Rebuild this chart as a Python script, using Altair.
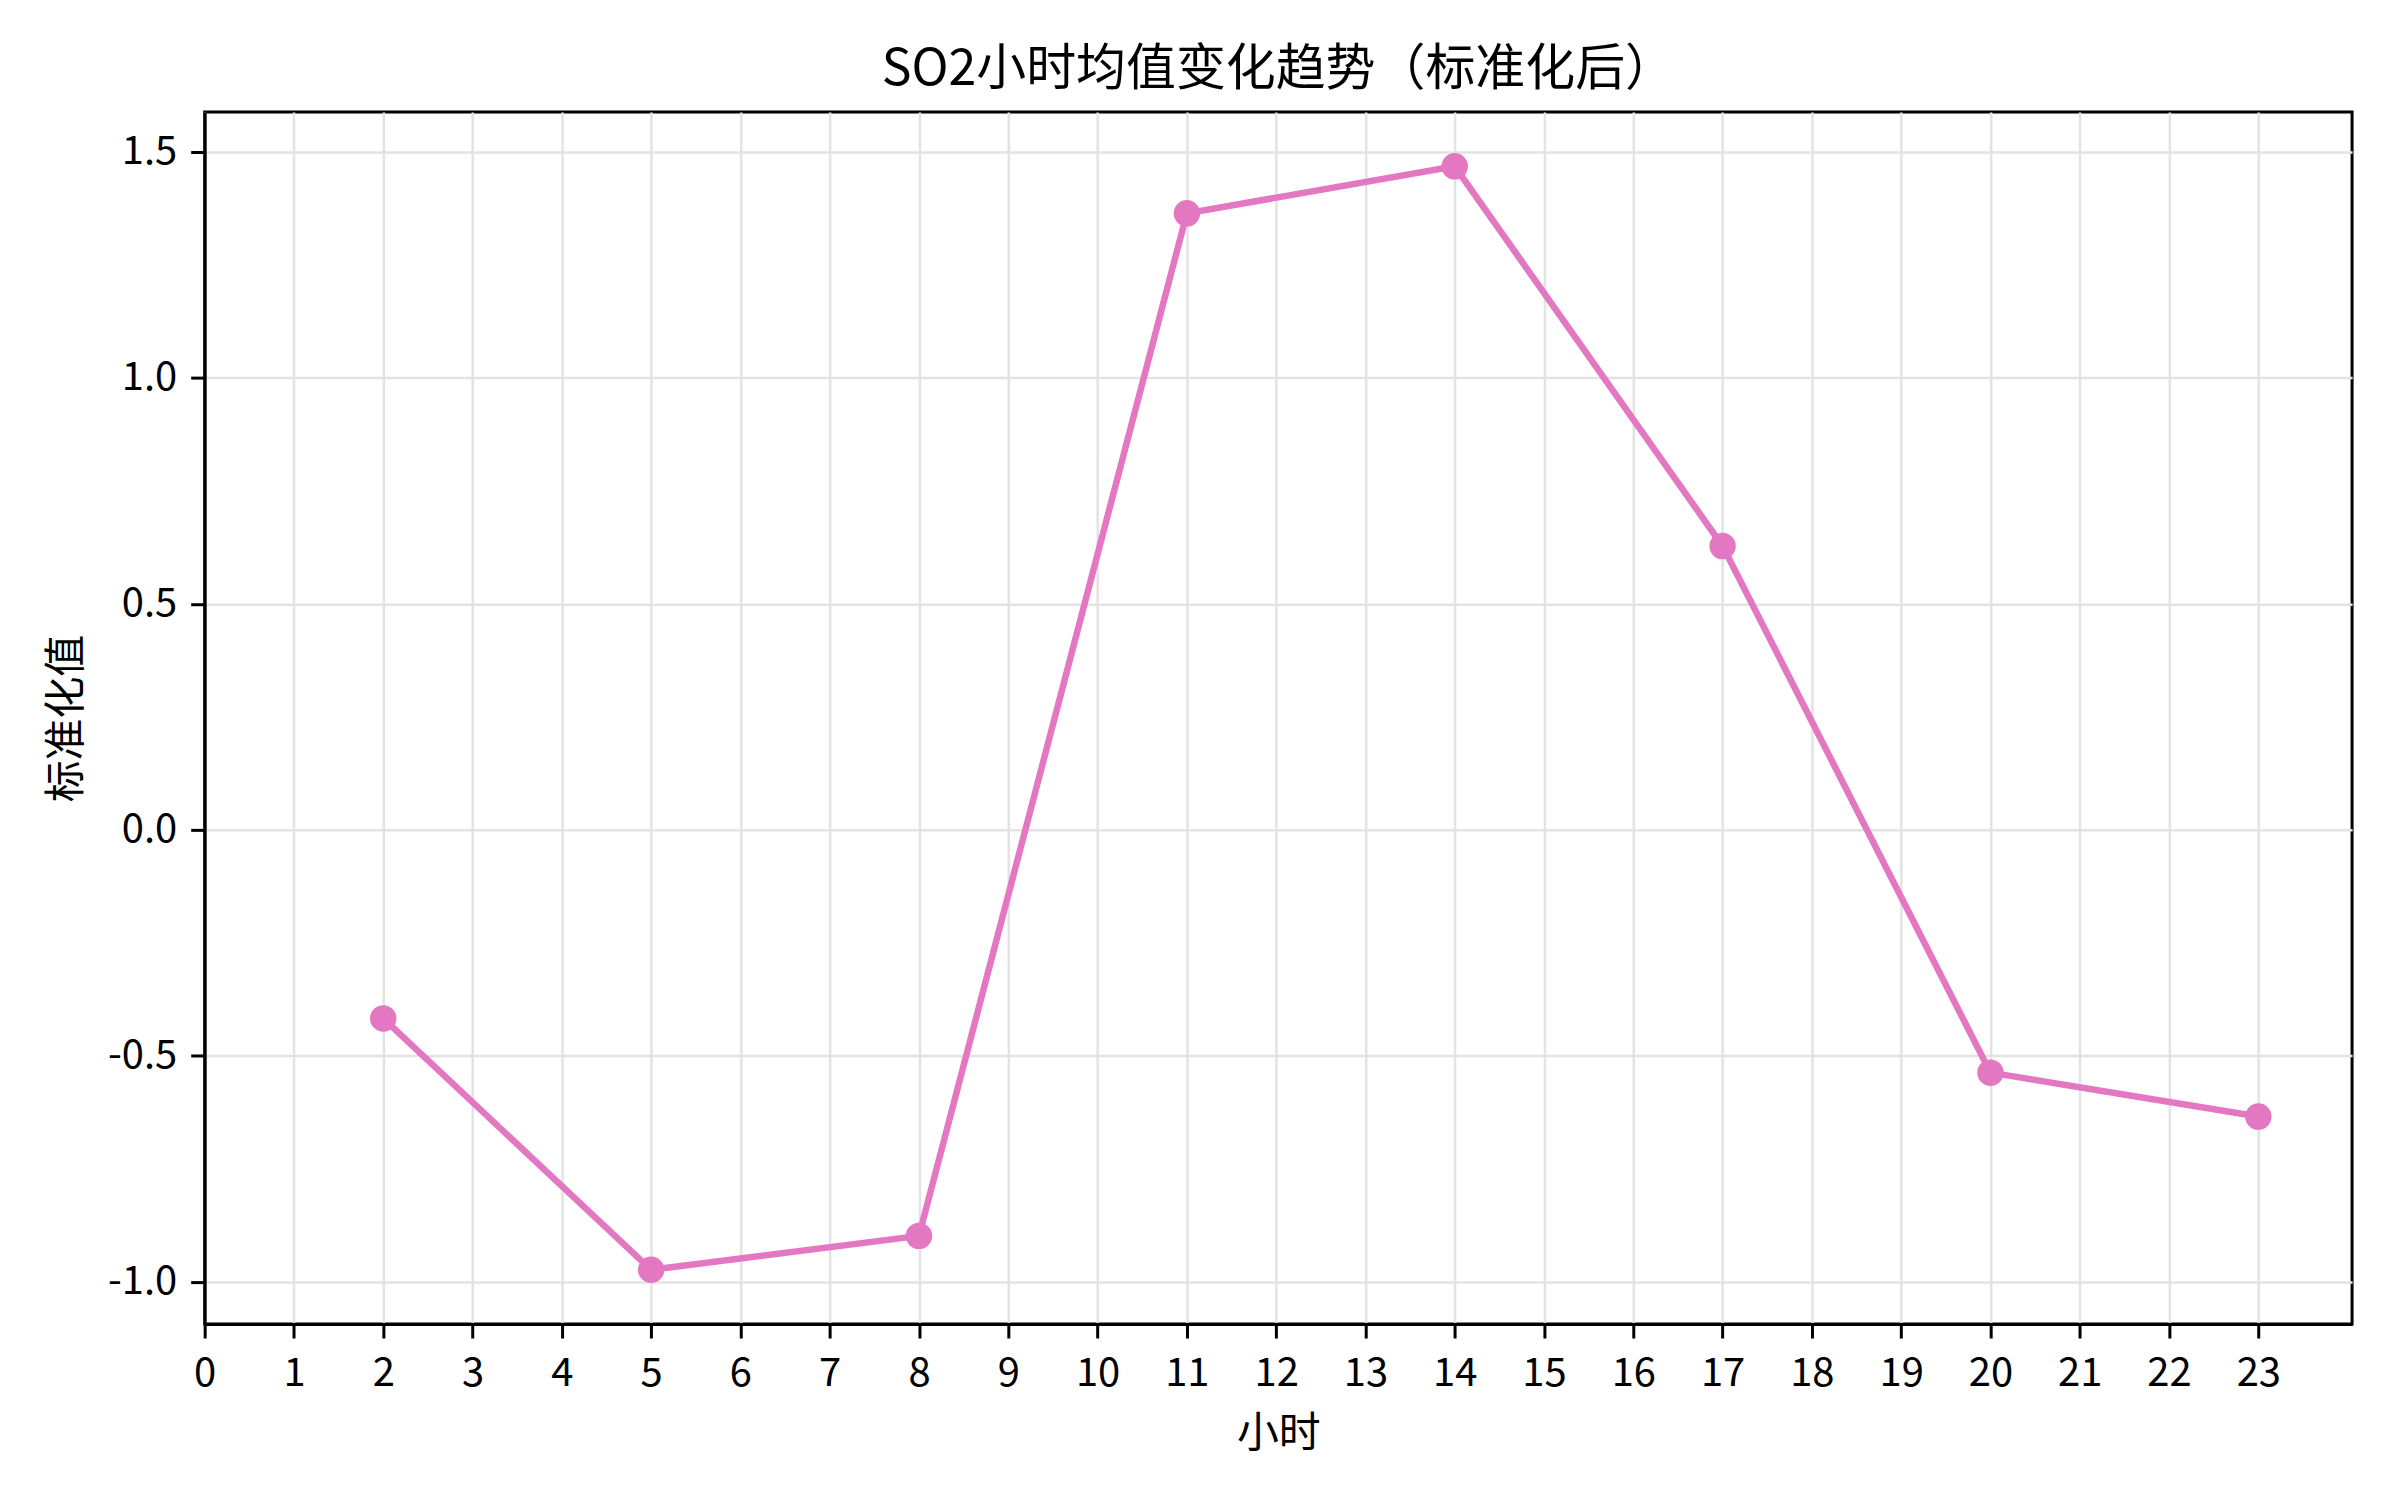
import altair as alt
import pandas as pd

hours = [2, 5, 8, 11, 14, 17, 20, 23]
values = [-0.417, -0.973, -0.898, 1.364, 1.468, 0.628, -0.537, -0.634]
x_ticks = list(range(0, 24))
y_ticks = [-1.0, -0.5, 0.0, 0.5, 1.0, 1.5]

df = pd.DataFrame({"hour": hours, "value": values})

FONT = "Noto Sans CJK SC"
PINK = "#e377c2"
W, H = 2151, 1214

x = alt.X(
    "hour:Q",
    scale=alt.Scale(domain=[0, 24.05], nice=False, zero=False),
    axis=alt.Axis(
        values=x_ticks, format="d", title="小时", labelFlush=False,
        titleX=W / 2, titleY=110, titleAlign="center", titleBaseline="middle",
        labelPadding=16,
    ),
)
y = alt.Y(
    "value:Q",
    scale=alt.Scale(domain=[-1.093, 1.588], nice=False, zero=False),
    axis=alt.Axis(
        values=y_ticks, title="标准化值", labelFlush=False,
        labelExpr="replace(format(datum.value, '.1f'), '\u2212', '-')",
        titleX=-138, titleY=H / 2, titleAngle=270, titleAlign="center",
        titleBaseline="middle", labelPadding=14,
    ),
)

base = alt.Chart(df).encode(x=x, y=y)
line = base.mark_line(color=PINK, strokeWidth=6.5)
pts = base.mark_point(filled=True, color=PINK, size=700, opacity=1)

chart = (
    alt.layer(line, pts)
    .properties(
        width=W, height=H,
        title=alt.TitleParams("SO2小时均值变化趋势（标准化后）", fontSize=50, font=FONT,
                              fontWeight="normal", anchor="middle", baseline="alphabetic",
                              offset=-23, color="black"),
        autosize=alt.AutoSizeParams(type="none"),
        padding={"left": 197, "top": 103, "right": 40, "bottom": 160},
    )
    .configure_view(stroke="black", strokeWidth=3)
    .configure_axis(
        domain=True, domainColor="black", domainWidth=3,
        grid=True, gridColor="#e3e3e3", gridWidth=2.5,
        tickColor="black", tickWidth=3, tickSize=14,
        labelFont=FONT, labelFontSize=40, labelColor="black",
        titleFont=FONT, titleFontSize=42, titleFontWeight="normal", titleColor="black",
    )
)

chart.save("out.html", embed_options={"renderer": "svg", "actions": False})
